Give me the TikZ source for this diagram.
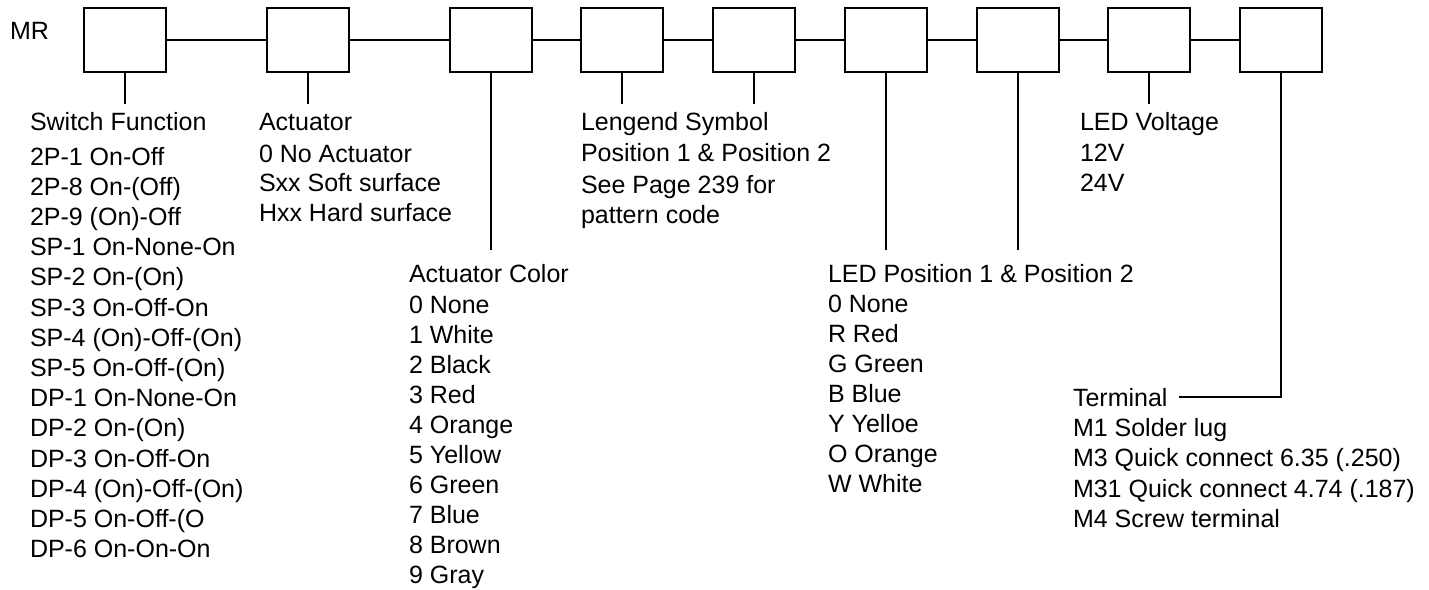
\documentclass[tikz,border=0pt]{standalone}
\usepackage{fontspec}
\setmainfont{Liberation Sans}

\begin{document}
\begin{tikzpicture}[x=1pt, y=-1pt, line width=2pt,
  slot/.style={draw, minimum width=82pt, minimum height=64pt, inner sep=0pt},
  lbl/.style={anchor=base west, inner sep=0pt, font=\fontsize{25}{30}\selectfont}]
  \useasboundingbox (0,0) rectangle (1429,589);

  % Part number boxes
  \node[lbl] (mr) at (9,39) {MR};
  \node[slot] (b1) at (125,40) {};
  \node[slot] (b2) at (307.5,40) {};
  \node[slot] (b3) at (490.5,40) {};
  \node[slot] (b4) at (622,40) {};
  \node[slot] (b5) at (753.5,40) {};
  \node[slot] (b6) at (886,40) {};
  \node[slot] (b7) at (1017.5,40) {};
  \node[slot] (b8) at (1149,40) {};
  \node[slot] (b9) at (1281,40) {};

  % Chain between boxes
  \foreach \a/\b in {1/2,2/3,3/4,4/5,5/6,6/7,7/8,8/9}
    \draw (b\a) -- (b\b);

  % Drop lines
  \foreach \n/\len in {1/31,2/31,3/177,4/31,5/31,6/177,7/177,8/31} {
    \path (b\n.south) ++(0,\len) coordinate (e\n);
    \draw (b\n.south) -- (e\n);
  }

  % Switch function
  \node[lbl] (sw) at (29,130) {Switch Function};
  \foreach \t [count=\i from 0] in {2P-1 On-Off, 2P-8 On-(Off), 2P-9 (On)-Off,
      SP-1 On-None-On, SP-2 On-(On), SP-3 On-Off-On, SP-4 (On)-Off-(On),
      SP-5 On-Off-(On), DP-1 On-None-On, DP-2 On-(On), DP-3 On-Off-On,
      DP-4 (On)-Off-(On), DP-5 On-Off-(O, DP-6 On-On-On}
    \node[lbl] (sw\i) at (29,165+30.2*\i) {\t};

  % Actuator
  \node[lbl] (act) at (258,130) {Actuator};
  \foreach \t [count=\i from 0] in {0 No Actuator, Sxx Soft surface, Hxx Hard surface}
    \node[lbl] (act\i) at (258,162+29.5*\i) {\t};

  % Actuator color
  \node[lbl] (col) at (408,282) {Actuator Color};
  \foreach \t [count=\i from 0] in {0 None, 1 White, 2 Black, 3 Red, 4 Orange,
      5 Yellow, 6 Green, 7 Blue, 8 Brown, 9 Gray}
    \node[lbl] (col\i) at (408,313+30*\i) {\t};

  % Legend symbol
  \node[lbl] (leg) at (580,130) {Lengend Symbol};
  \node[lbl] (leg0) at (580,161) {Position 1 \& Position 2};
  \node[lbl] (leg1) at (580,193) {See Page 239 for};
  \node[lbl] (leg2) at (580,223) {pattern code};

  % LED position
  \node[lbl] (led) at (827,282) {LED Position 1 \& Position 2};
  \foreach \t [count=\i from 0] in {0 None, R Red, G Green, B Blue, Y Yelloe,
      O Orange, W White}
    \node[lbl] (led\i) at (827,312+30*\i) {\t};

  % LED voltage
  \node[lbl] (volt) at (1079,130) {LED Voltage};
  \node[lbl] (volt0) at (1079,161) {12V};
  \node[lbl] (volt1) at (1079,191) {24V};

  % Terminal
  \node[lbl] (term) at (1072,406) {Terminal};
  \foreach \t [count=\i from 0] in {M1 Solder lug, M3 Quick connect 6.35 (.250),
      M31 Quick connect 4.74 (.187), M4 Screw terminal}
    \node[lbl] (term\i) at (1072,436+30.5*\i) {\t};
  \draw (b9.south) |- ([xshift=11pt]term.east);
\end{tikzpicture}
\end{document}
